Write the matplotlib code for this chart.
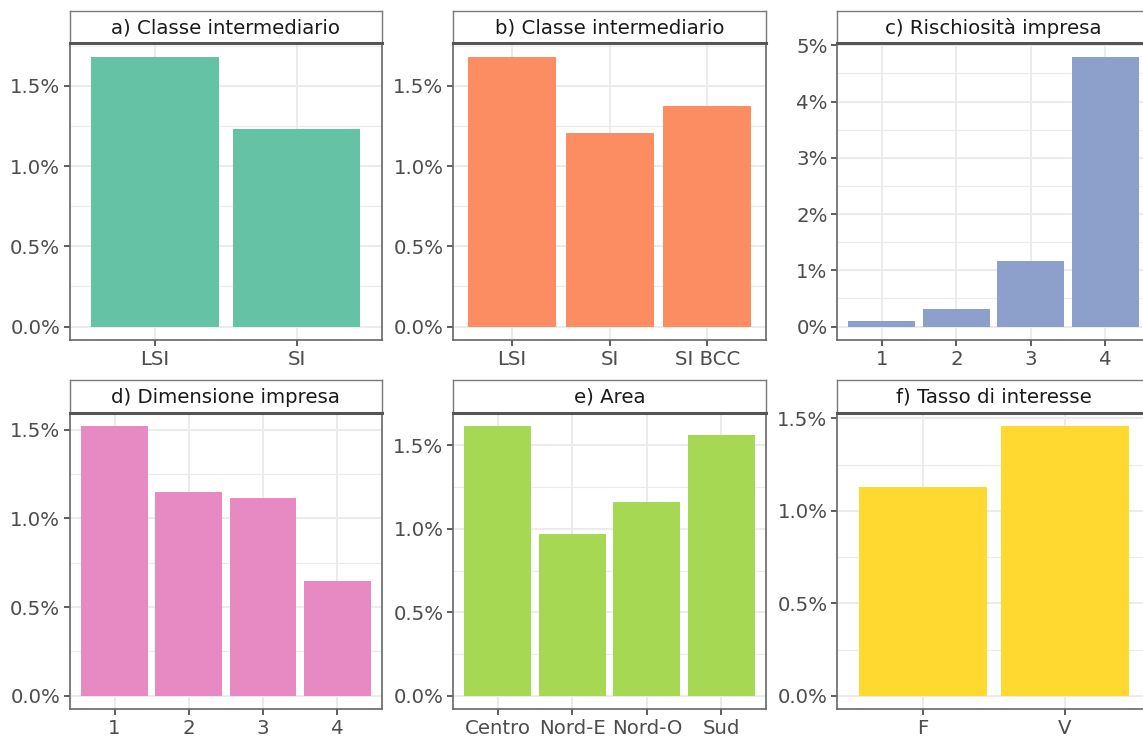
import numpy as np
import matplotlib
matplotlib.use("Agg")
import matplotlib.pyplot as plt
from matplotlib.ticker import MultipleLocator, FuncFormatter

# default-rate style shares, in percent
classe_a_labels = ["LSI", "SI"]
classe_a_values = [1.681, 1.231]

classe_b_labels = ["LSI", "SI", "SI BCC"]
classe_b_values = [1.681, 1.204, 1.377]

rischio_labels = ["1", "2", "3", "4"]
rischio_values = [0.10, 0.32, 1.16, 4.795]

dimensione_labels = ["1", "2", "3", "4"]
dimensione_values = [1.519, 1.151, 1.114, 0.645]

area_labels = ["Centro", "Nord-E", "Nord-O", "Sud"]
area_values = [1.615, 0.969, 1.158, 1.565]

tasso_labels = ["F", "V"]
tasso_values = [1.127, 1.458]

titles = ["a) Classe intermediario", "b) Classe intermediario", "c) Rischiosità impresa",
          "d) Dimensione impresa", "e) Area", "f) Tasso di interesse"]
colors = ["#66C2A5", "#FC8D62", "#8DA0CB", "#E78AC3", "#A6D854", "#FFD92F"]

panels = [
    (classe_a_labels, classe_a_values, 0.5, 1),
    (classe_b_labels, classe_b_values, 0.5, 1),
    (rischio_labels, rischio_values, 1.0, 0),
    (dimensione_labels, dimensione_values, 0.5, 1),
    (area_labels, area_values, 0.5, 1),
    (tasso_labels, tasso_values, 0.5, 1),
]

W, H = 1143, 738
FS = 14.2
fig = plt.figure(figsize=(W / 100, H / 100), dpi=100)
fig.patch.set_facecolor("white")

# panel boxes in pixels: (left, right) per column, (strip top, strip bottom, panel bottom) per row
cols = [(70, 381.7), (453.3, 766), (837.3, 1150)]
rows = [(10.7, 43.3, 340), (380, 412.7, 709.3)]


def px_box(x0, x1, ytop, ybot):
    return [x0 / W, 1 - ybot / H, (x1 - x0) / W, (ybot - ytop) / H]


for i, (labels, values, step, dec) in enumerate(panels):
    r, c = divmod(i, 3)
    x0, x1 = cols[c]
    st, sb, pb = rows[r]

    ax = fig.add_axes(px_box(x0, x1, sb, pb))
    x = np.arange(len(labels))
    ax.bar(x, values, width=0.9, color=colors[i], edgecolor="none", zorder=3)

    vmax = max(values)
    ax.set_ylim(-0.05 * vmax, 1.05 * vmax)
    ax.set_xlim(-0.6, len(labels) - 1 + 0.6)

    ax.yaxis.set_major_locator(MultipleLocator(step))
    ax.yaxis.set_minor_locator(MultipleLocator(step / 2))
    ax.yaxis.set_major_formatter(FuncFormatter(lambda v, p, d=dec: f"{v:.{d}f}%"))
    ax.set_xticks(x)
    ax.set_xticklabels(labels)

    ax.grid(which="major", axis="both", color="#EBEBEB", linewidth=1.4, zorder=0)
    ax.grid(which="minor", axis="y", color="#EBEBEB", linewidth=0.8, zorder=0)
    ax.set_axisbelow(True)

    ax.tick_params(axis="both", which="major", length=4.5, width=1.1, color="#333333",
                   labelcolor="#4D4D4D", labelsize=FS, pad=2.5)
    ax.tick_params(axis="both", which="minor", length=0)
    for s in ax.spines.values():
        s.set_color("#666666")
        s.set_linewidth(1.2)

    # facet strip
    sax = fig.add_axes(px_box(x0, x1, st, sb))
    sax.set_xticks([])
    sax.set_yticks([])
    sax.set_facecolor("white")
    for name, s in sax.spines.items():
        s.set_color("#7A7A7A")
        s.set_linewidth(1.0)
    sax.spines["bottom"].set_color("#555555")
    sax.spines["bottom"].set_linewidth(2.2)
    sax.text(0.5, 0.47, titles[i], transform=sax.transAxes, ha="center", va="center",
             fontsize=FS, color="#1A1A1A")

fig.savefig("out.png", dpi=100, facecolor="white")
